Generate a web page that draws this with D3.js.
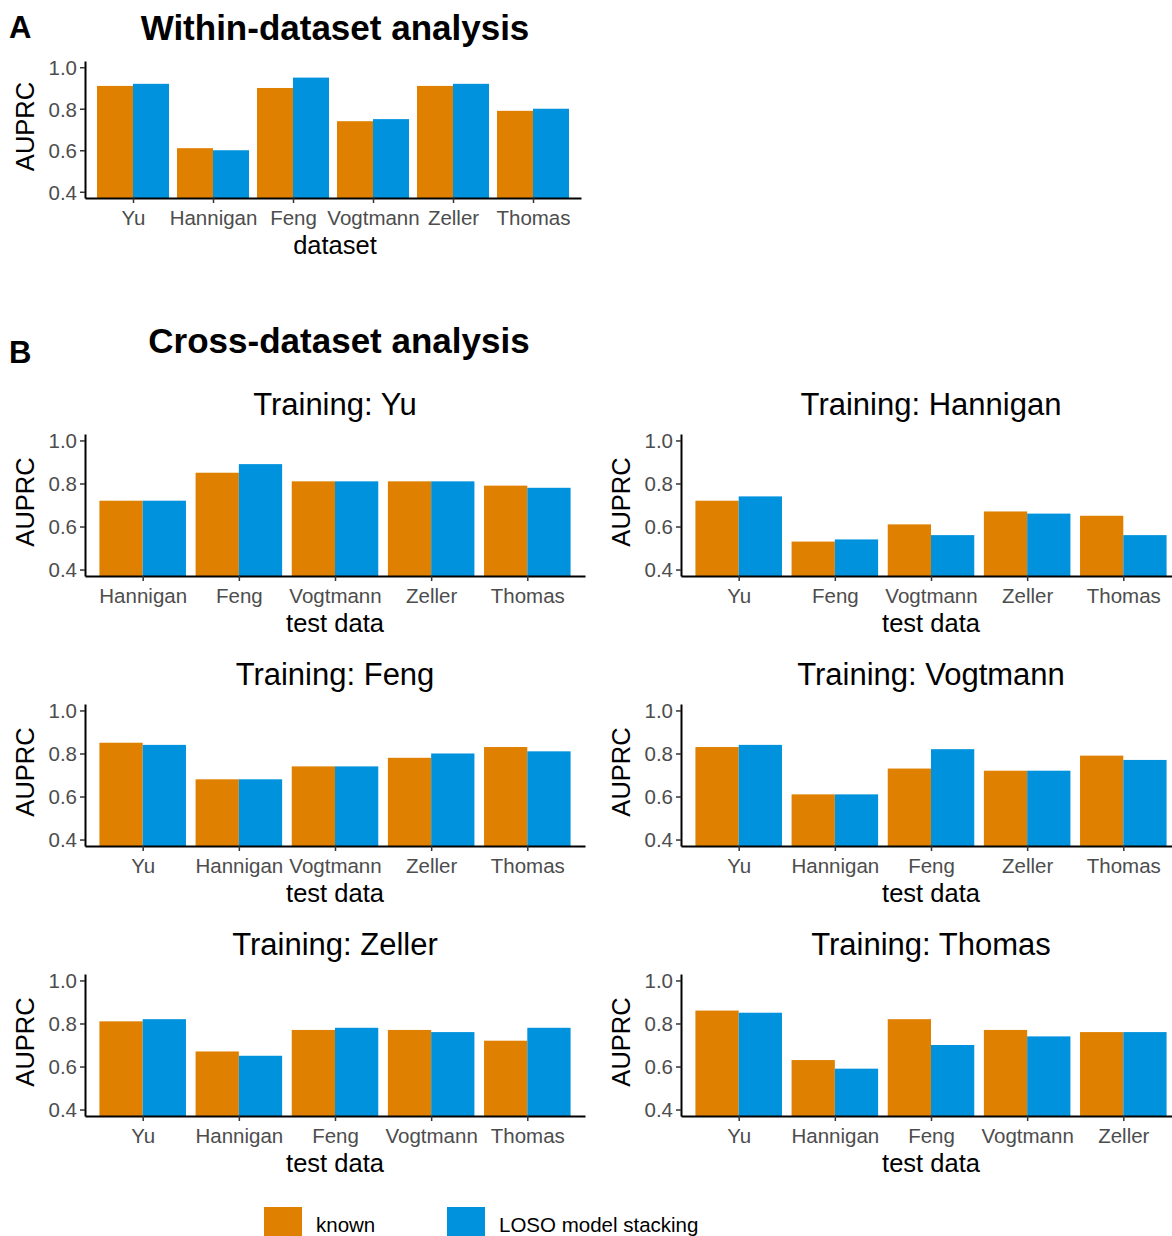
<!DOCTYPE html>
<html>
<head>
<meta charset="utf-8">
<script src="https://cdn.jsdelivr.net/npm/d3@7"></script>
<style>
  body { margin: 0; background: #fff; }
  svg { display: block; font-family: "Liberation Sans", Arial, sans-serif; }
</style>
</head>
<body>
<div id="chart"></div>
<script>
// Data
const methods = ["known", "LOSO model stacking"]
const colors = ["#E08000", "#0092DC"]
const yTicks = [0.4, 0.6, 0.8, 1.0]

const withinCats = ["Yu", "Hannigan", "Feng", "Vogtmann", "Zeller", "Thomas"]
const withinKnown = [0.91, 0.61, 0.90, 0.74, 0.91, 0.79]
const withinLoso = [0.92, 0.60, 0.95, 0.75, 0.92, 0.80]

const trainYuCats = ["Hannigan", "Feng", "Vogtmann", "Zeller", "Thomas"]
const trainYuKnown = [0.72, 0.85, 0.81, 0.81, 0.79]
const trainYuLoso = [0.72, 0.89, 0.81, 0.81, 0.78]

const trainHanniganCats = ["Yu", "Feng", "Vogtmann", "Zeller", "Thomas"]
const trainHanniganKnown = [0.72, 0.53, 0.61, 0.67, 0.65]
const trainHanniganLoso = [0.74, 0.54, 0.56, 0.66, 0.56]

const trainFengCats = ["Yu", "Hannigan", "Vogtmann", "Zeller", "Thomas"]
const trainFengKnown = [0.85, 0.68, 0.74, 0.78, 0.83]
const trainFengLoso = [0.84, 0.68, 0.74, 0.80, 0.81]

const trainVogtmannCats = ["Yu", "Hannigan", "Feng", "Zeller", "Thomas"]
const trainVogtmannKnown = [0.83, 0.61, 0.73, 0.72, 0.79]
const trainVogtmannLoso = [0.84, 0.61, 0.82, 0.72, 0.77]

const trainZellerCats = ["Yu", "Hannigan", "Feng", "Vogtmann", "Thomas"]
const trainZellerKnown = [0.81, 0.67, 0.77, 0.77, 0.72]
const trainZellerLoso = [0.82, 0.65, 0.78, 0.76, 0.78]

const trainThomasCats = ["Yu", "Hannigan", "Feng", "Vogtmann", "Zeller"]
const trainThomasKnown = [0.86, 0.63, 0.82, 0.77, 0.76]
const trainThomasLoso = [0.85, 0.59, 0.70, 0.74, 0.76]

// Dimensions
const width = 1172, height = 1236

const svg = d3.select('#chart')
  .append('svg')
  .attr('width', width)
  .attr('height', height)

function drawPanel(p) {
  const g = svg.append('g')

  const x = d3.scalePoint()
    .domain(p.cats)
    .range([p.left, p.left + p.w])
    .padding(0.6)
  const step = x.step()

  const y = d3.scaleLinear()
    .domain([0.37, 1.03])
    .range([p.bottom, p.bottom - p.h])

  const rows = p.cats.map((c, i) => ({ cat: c, vals: [p.known[i], p.loso[i]] }))

  // bars
  g.append('g')
    .selectAll('g')
    .data(rows)
    .join('g')
    .selectAll('rect')
    .data(d => d.vals.map((v, j) => ({ cat: d.cat, v, j })))
    .join('rect')
    .attr('x', d => x(d.cat) - 0.45 * step + d.j * 0.45 * step)
    .attr('width', 0.45 * step)
    .attr('y', d => y(d.v))
    .attr('height', d => p.bottom - y(d.v))
    .attr('fill', d => colors[d.j])

  // axes
  const yAxis = d3.axisLeft(y).tickValues(yTicks).tickFormat(d3.format('.1f'))
    .tickSize(5).tickSizeOuter(0).tickPadding(3)
  const xAxis = d3.axisBottom(x).tickSize(5).tickSizeOuter(0).tickPadding(4)

  const ya = g.append('g').attr('transform', `translate(${p.left},0)`).call(yAxis)
  const xa = g.append('g').attr('transform', `translate(0,${p.bottom})`).call(xAxis)

  for (const a of [ya, xa]) {
    a.select('.domain').attr('stroke', '#000').attr('stroke-width', 2)
    a.selectAll('.tick line').attr('stroke', '#333').attr('stroke-width', 1.5)
    a.selectAll('.tick text').attr('fill', '#4d4d4d').style('font-size', '20.5px')
  }
  xa.selectAll('.tick text').attr('dy', null).attr('y', 27)
    .attr('dominant-baseline', 'alphabetic')
  ya.selectAll('.tick text').attr('dy', '0.36em')

  // axis titles
  g.append('text')
    .attr('x', p.left + 250)
    .attr('y', p.bottom + 56)
    .attr('text-anchor', 'middle')
    .style('font-size', '25.5px')
    .text(p.xTitle)

  g.append('text')
    .attr('transform', `translate(${p.left - 60},${p.bottom - p.h / 2 - 3}) rotate(-90)`)
    .attr('text-anchor', 'middle')
    .attr('dominant-baseline', 'central')
    .style('font-size', '25.5px')
    .text('AUPRC')

  if (p.title) {
    g.append('text')
      .attr('x', p.left + 250)
      .attr('y', p.bottom - 161)
      .attr('text-anchor', 'middle')
      .style('font-size', '31px')
      .text(p.title)
  }
}

// Panel A
svg.append('text').attr('x', 9).attr('y', 38)
  .style('font-size', '31px').style('font-weight', 'bold').text('A')
svg.append('text').attr('x', 335).attr('y', 40).attr('text-anchor', 'middle')
  .style('font-size', '35px').style('font-weight', 'bold').text('Within-dataset analysis')

drawPanel({ cats: withinCats, known: withinKnown, loso: withinLoso,
  left: 85, w: 496, bottom: 198, h: 137, xTitle: 'dataset' })

// Panel B
svg.append('text').attr('x', 9).attr('y', 363)
  .style('font-size', '31px').style('font-weight', 'bold').text('B')
svg.append('text').attr('x', 339).attr('y', 353).attr('text-anchor', 'middle')
  .style('font-size', '35px').style('font-weight', 'bold').text('Cross-dataset analysis')

const crossPanels = [
  { title: 'Training: Yu', cats: trainYuCats, known: trainYuKnown, loso: trainYuLoso },
  { title: 'Training: Hannigan', cats: trainHanniganCats, known: trainHanniganKnown, loso: trainHanniganLoso },
  { title: 'Training: Feng', cats: trainFengCats, known: trainFengKnown, loso: trainFengLoso },
  { title: 'Training: Vogtmann', cats: trainVogtmannCats, known: trainVogtmannKnown, loso: trainVogtmannLoso },
  { title: 'Training: Zeller', cats: trainZellerCats, known: trainZellerKnown, loso: trainZellerLoso },
  { title: 'Training: Thomas', cats: trainThomasCats, known: trainThomasKnown, loso: trainThomasLoso },
]

crossPanels.forEach((p, i) => {
  const col = i % 2, row = Math.floor(i / 2)
  drawPanel(Object.assign({}, p, {
    left: col === 0 ? 85 : 681,
    w: 500,
    bottom: 576 + row * 270,
    h: 142,
    xTitle: 'test data'
  }))
})

// Legend
const legend = svg.append('g')
const legendX = [264, 447]
methods.forEach((m, i) => {
  legend.append('rect')
    .attr('x', legendX[i]).attr('y', 1207)
    .attr('width', 38).attr('height', 38)
    .attr('fill', colors[i])
  legend.append('text')
    .attr('x', legendX[i] + 52).attr('y', 1232)
    .style('font-size', '20.5px')
    .text(m)
})
</script>
</body>
</html>
